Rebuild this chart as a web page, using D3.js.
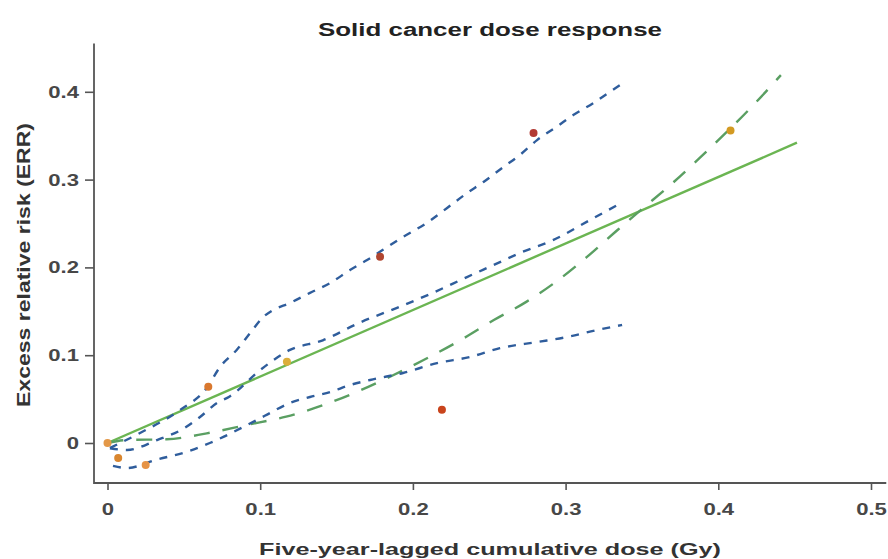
<!DOCTYPE html>
<html>
<head>
<meta charset="utf-8">
<script src="https://cdn.jsdelivr.net/npm/d3@7"></script>
<style>
  body { margin: 0; background: #fff; }
  svg { display: block; font-family: "Liberation Sans", Arial, sans-serif; }
</style>
</head>
<body>
<svg id="chart" width="888" height="559"></svg>
<script>
// tick labels
const doseTicks = [0, 0.1, 0.2, 0.3, 0.4, 0.5];
const errTicks = [0, 0.1, 0.2, 0.3, 0.4];

// observed points (dose category estimates)
const pointDose = [0, 0.007, 0.025, 0.066, 0.1175, 0.1785, 0.219, 0.279, 0.408];
const pointErr = [0, -0.017, -0.025, 0.064, 0.0926, 0.212, 0.038, 0.353, 0.356];

// linear fit (green solid)
const linearDose = [0, 0.4515];
const linearErr = [0, 0.342];

// linear-quadratic fit (green long dash)
const quadDose = [0, 0.0126, 0.0388, 0.065, 0.091, 0.117, 0.141, 0.163, 0.185, 0.207, 0.233, 0.253, 0.2745, 0.294, 0.314, 0.334, 0.349, 0.370, 0.388, 0.423, 0.441];
const quadErr = [0, 0.0034, 0.0042, 0.011, 0.0205, 0.030, 0.043, 0.058, 0.0755, 0.0945, 0.119, 0.140, 0.161, 0.184, 0.212, 0.2426, 0.265, 0.296, 0.325, 0.385, 0.419];

// smoothed fit with upper / lower bounds (blue dashes)
const smoothDose = [0.0016, 0.0128, 0.0324, 0.0494, 0.0606, 0.0717, 0.080, 0.0999, 0.1195, 0.141, 0.165, 0.1896, 0.213, 0.2354, 0.257, 0.270, 0.2917, 0.316, 0.3376];
const smoothErr = [-0.006, -0.008, 0.0034, 0.016, 0.0296, 0.0456, 0.053, 0.083, 0.106, 0.117, 0.137, 0.154, 0.171, 0.189, 0.206, 0.2164, 0.231, 0.254, 0.2745];

const upperDose = [0.0016, 0.0213, 0.0475, 0.065, 0.0737, 0.0846, 0.0933, 0.102, 0.108, 0.1195, 0.1326, 0.1457, 0.1588, 0.170, 0.1804, 0.1935, 0.209, 0.2224, 0.2355, 0.246, 0.259, 0.270, 0.2813, 0.294, 0.305, 0.318, 0.329, 0.3376];
const upperErr = [-0.0057, 0.0114, 0.0376, 0.0626, 0.0866, 0.106, 0.125, 0.1435, 0.151, 0.1595, 0.171, 0.182, 0.197, 0.2084, 0.22, 0.2346, 0.2506, 0.2677, 0.2847, 0.297, 0.314, 0.328, 0.345, 0.360, 0.3736, 0.387, 0.400, 0.410];

const lowerDose = [0.0036, 0.0126, 0.0322, 0.0519, 0.067, 0.0887, 0.103, 0.1195, 0.1326, 0.1457, 0.1588, 0.172, 0.1935, 0.2158, 0.2374, 0.257, 0.2813, 0.301, 0.3206, 0.337];
const lowerErr = [-0.026, -0.0285, -0.019, -0.010, 0.0, 0.018, 0.031, 0.0456, 0.0524, 0.058, 0.066, 0.0718, 0.0797, 0.091, 0.098, 0.108, 0.115, 0.1207, 0.1287, 0.1344];

var svg = d3.select("#chart");

var x = d3.scaleLinear().domain([0, 0.5]).range([107.5, 871]);
var y = d3.scaleLinear().domain([0, 0.4]).range([443, 91.8]);

var axisColor = "#555";
var xAxisY = 483, yAxisX = 94;

// x axis
var gx = svg.append("g")
  .attr("transform", "translate(0," + xAxisY + ")")
  .call(d3.axisBottom(x).tickValues(doseTicks).tickSize(7).tickPadding(13).tickFormat(d => String(d)));
gx.select(".domain").remove();

// y axis
var gy = svg.append("g")
  .attr("transform", "translate(" + yAxisX + ",0)")
  .call(d3.axisLeft(y).tickValues(errTicks).tickSize(9).tickPadding(6).tickFormat(d => String(d)));
gy.select(".domain").remove();

svg.selectAll(".tick line").attr("stroke", axisColor).attr("stroke-width", 1.6);
svg.selectAll(".tick text")
  .attr("fill", "#474747")
  .attr("font-size", 17)
  .attr("font-weight", "bold")
  .attr("font-family", "'Liberation Sans', Arial, sans-serif")
  .each(function() {
    // the source picture is stretched sideways, widen the labels the same way
    var w = this.getComputedTextLength();
    d3.select(this).attr("textLength", w * 1.3).attr("lengthAdjust", "spacingAndGlyphs");
  });

// L-shaped axis lines
svg.append("path")
  .attr("d", "M" + yAxisX + "," + y(0.455) + "V" + xAxisY + "H" + x(0.51))
  .attr("fill", "none")
  .attr("stroke", axisColor)
  .attr("stroke-width", 1.8);

var line = d3.line().x(d => x(d[0])).y(d => y(d[1]));
var lineCurve = d3.line().x(d => x(d[0])).y(d => y(d[1])).curve(d3.curveMonotoneX);

// green linear fit
svg.append("path")
  .datum(d3.zip(linearDose, linearErr))
  .attr("d", line)
  .attr("fill", "none")
  .attr("stroke", "#6bb552")
  .attr("stroke-width", 2.4);

// green linear-quadratic
svg.append("path")
  .datum(d3.zip(quadDose, quadErr))
  .attr("d", lineCurve)
  .attr("fill", "none")
  .attr("stroke", "#5a9f62")
  .attr("stroke-width", 2.4)
  .attr("stroke-dasharray", "16,13");

// blue smooth + bounds
[[smoothDose, smoothErr], [upperDose, upperErr], [lowerDose, lowerErr]].forEach(function(s) {
  svg.append("path")
    .datum(d3.zip(s[0], s[1]))
    .attr("d", lineCurve)
    .attr("fill", "none")
    .attr("stroke", "#2f5d9c")
    .attr("stroke-width", 2.4)
    .attr("stroke-dasharray", "8,8");
});

// points
var pointColor = d3.scaleOrdinal()
  .domain(d3.range(pointDose.length))
  .range(["#e39848", "#d9862f", "#e69345", "#d9782e", "#dcae3a", "#b0452f", "#c9441c", "#b23a34", "#d39a22"]);

svg.append("g").selectAll("circle")
  .data(d3.zip(pointDose, pointErr))
  .enter()
  .append("circle")
  .attr("cx", d => x(d[0]))
  .attr("cy", d => y(d[1]))
  .attr("r", 4)
  .attr("fill", (d, i) => pointColor(i));

// title
svg.append("text")
  .attr("x", 490).attr("y", 36)
  .attr("text-anchor", "middle")
  .attr("font-size", 18)
  .attr("font-weight", "bold")
  .attr("fill", "#222")
  .attr("textLength", 344)
  .attr("lengthAdjust", "spacingAndGlyphs")
  .text("Solid cancer dose response");

// x axis title
svg.append("text")
  .attr("x", 490).attr("y", 555)
  .attr("text-anchor", "middle")
  .attr("font-size", 17)
  .attr("font-weight", "bold")
  .attr("fill", "#333")
  .attr("textLength", 462)
  .attr("lengthAdjust", "spacingAndGlyphs")
  .text("Five-year-lagged cumulative dose (Gy)");

// y axis title
svg.append("text")
  .attr("transform", "translate(30,265) rotate(-90)")
  .attr("text-anchor", "middle")
  .attr("font-size", 18)
  .attr("font-weight", "bold")
  .attr("fill", "#333")
  .attr("textLength", 284)
  .attr("lengthAdjust", "spacingAndGlyphs")
  .text("Excess relative risk (ERR)");
</script>
</body>
</html>
